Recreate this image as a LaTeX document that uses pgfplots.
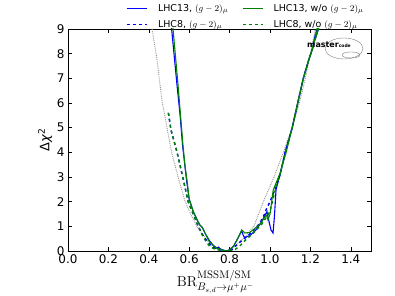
\documentclass[border=0pt]{standalone}
\usepackage[no-math]{fontspec}
\setmainfont{DejaVu Sans}
\usepackage{pgfplots}
\pgfplotsset{compat=1.18}
\definecolor{mplblue}{RGB}{0,0,255}
\definecolor{mplgreen}{RGB}{0,128,0}
\definecolor{dotgray}{RGB}{150,150,150}
\begin{document}
\begin{tikzpicture}
\begin{axis}[
  at={(0,0)}, anchor=south west,
  scale only axis, width=303bp, height=222bp,
  xmin=0, xmax=1.5, ymin=0, ymax=9,
  xtick={0,0.2,0.4,0.6,0.8,1.0,1.2,1.4},
  ytick={0,1,2,3,4,5,6,7,8,9},
  minor tick num=0,
  tick align=inside, major tick length=4bp,
  tick style={black, line width=0.5pt},
  axis line style={black, line width=0.7pt},
  /pgf/number format/assume math mode=true,
  ticklabel style={font=\fontsize{12}{14}\selectfont},
  x tick label style={/pgf/number format/.cd, fixed, fixed zerofill, precision=1},
  y tick label style={/pgf/number format/.cd, fixed, precision=0},
  xlabel={$\mathrm{BR}^{\mathrm{MSSM/SM}}_{B_{s,d}\to\mu^+\mu^-}$},
  xlabel style={font=\fontsize{15}{17}\selectfont, yshift=0bp, xshift=-4bp},
  ylabel={Δ\textit{χ}\textsuperscript{2}},
  ylabel style={font=\fontsize{13}{15}\selectfont, yshift=-2bp},
  legend columns=2,
  legend cell align=left,
  legend style={at={(rel axis cs:0.183,0.983)}, anchor=south west, draw=none, fill=none,
    font=\fontsize{9.5}{10}\selectfont, row sep=3bp,
    /tikz/every even column/.append style={column sep=12bp}},
  legend image code/.code={\draw[#1] (0bp,0bp) -- (20bp,0bp);},
  clip=true,
]
% dotted gray reference
\addplot[dotgray, densely dotted, line width=0.9pt, forget plot] coordinates {
(0.416,9.0) (0.44,7.8) (0.465,6.1) (0.49,5.0) (0.513,4.0) (0.545,3.0) (0.58,2.0)
(0.61,1.45) (0.638,1.0) (0.687,0.45) (0.72,0.17) (0.75,0.04) (0.78,0.0) (0.80,0.03)
(0.84,0.3) (0.88,0.62) (0.92,1.0) (0.967,2.0) (1.02,3.0) (1.066,4.0) (1.11,5.0)
(1.145,6.0) (1.175,7.0) (1.2,8.0) (1.225,9.0)
};
% LHC13 with g-2 (blue solid)
\addplot[mplblue, line width=1.1pt, forget plot] coordinates {
(0.510,9.2) (0.513,9.0) (0.54,6.7) (0.555,5.5) (0.567,4.3) (0.578,3.5) (0.588,2.8)
(0.60,2.1) (0.62,1.6) (0.64,1.25) (0.653,1.05) (0.665,0.95) (0.68,0.7) (0.70,0.42)
(0.72,0.22) (0.736,0.12) (0.745,0.16) (0.755,0.08) (0.77,0.03) (0.785,0.0) (0.80,0.05)
(0.82,0.2) (0.84,0.5) (0.86,0.82) (0.868,0.62) (0.875,0.55) (0.90,0.62) (0.93,0.85)
(0.96,1.2) (0.975,1.45) (0.985,1.6) (0.995,1.2) (1.005,0.85) (1.015,0.73) (1.022,1.4)
(1.03,2.5) (1.05,3.1) (1.075,4.0) (1.11,5.0) (1.14,6.1) (1.165,7.0) (1.19,7.7)
(1.21,8.2) (1.225,8.8) (1.22,8.5) (1.24,9.0) (1.245,9.3)
};
% LHC8 with g-2 (blue dashed)
\addplot[mplblue, dashed, line width=1.4pt, forget plot] coordinates {
(0.497,5.6) (0.51,4.9) (0.54,4.0) (0.568,3.0) (0.595,2.0) (0.62,1.5) (0.645,1.0)
(0.67,0.6) (0.70,0.3) (0.72,0.15) (0.75,0.05) (0.78,0.0) (0.81,0.04) (0.835,0.24)
(0.86,0.42) (0.885,0.58) (0.92,0.85) (0.95,1.13) (0.975,1.53) (0.98,1.66) (1.0,2.0)
(1.03,2.6) (1.05,3.1) (1.075,4.0) (1.11,5.0) (1.14,6.1) (1.165,7.0) (1.19,7.7)
(1.21,8.2) (1.23,8.9) (1.24,9.3)
};
% LHC13 w/o g-2 (green solid)
\addplot[mplgreen, line width=1.1pt, forget plot] coordinates {
(0.518,9.2) (0.52,9.0) (0.545,6.7) (0.557,5.5) (0.569,4.3) (0.58,3.4) (0.59,2.8)
(0.60,2.1) (0.62,1.6) (0.64,1.25) (0.653,1.05) (0.665,0.95) (0.68,0.7) (0.70,0.38)
(0.72,0.22) (0.736,0.12) (0.76,0.05) (0.785,0.0) (0.80,0.05) (0.82,0.2) (0.84,0.5)
(0.86,0.85) (0.876,0.73) (0.90,0.75) (0.92,0.88) (0.95,1.08) (0.975,1.39) (0.983,1.45)
(0.99,1.26) (1.0,1.5) (1.016,2.47) (1.05,3.16) (1.08,4.0) (1.11,5.0) (1.14,6.1)
(1.165,7.0) (1.19,7.7) (1.215,8.3) (1.23,8.9) (1.225,8.6) (1.24,9.0) (1.242,9.3)
};
% LHC8 w/o g-2 (green dashed)
\addplot[mplgreen, dashed, line width=1.4pt, forget plot] coordinates {
(0.497,5.6) (0.51,4.9) (0.54,4.0) (0.568,3.0) (0.595,2.0) (0.62,1.5) (0.645,1.0)
(0.67,0.55) (0.70,0.2) (0.72,0.1) (0.74,0.05) (0.78,0.0) (0.82,0.02) (0.85,0.2)
(0.88,0.45) (0.92,0.75) (0.96,1.1) (0.98,1.35) (1.0,1.6) (1.03,2.6) (1.05,3.1)
(1.075,4.0) (1.11,5.0) (1.14,6.1) (1.165,7.0) (1.19,7.7) (1.21,8.2) (1.23,8.9) (1.24,9.3)
};
\addlegendimage{draw=mplblue, line width=0.8pt}
\addlegendentry{\hspace{8bp}LHC13, $(g-2)_\mu$}
\addlegendimage{draw=mplgreen, line width=0.8pt}
\addlegendentry{\hspace{8bp}LHC13, w/o $(g-2)_\mu$}
\addlegendimage{draw=mplblue, dashed, line width=1.4pt}
\addlegendentry{\hspace{8bp}LHC8, $(g-2)_\mu$}
\addlegendimage{draw=mplgreen, dashed, line width=1.4pt}
\addlegendentry{\hspace{8bp}LHC8, w/o $(g-2)_\mu$}
\node[anchor=base west, font=\fontsize{9.5}{10}\selectfont, inner sep=0pt] at ([yshift=7bp]rel axis cs:0,1) {sub-GUT};
\draw[gray, line width=0.4pt] ([xshift=276bp,yshift=202.5bp]rel axis cs:0,0) ellipse [x radius=19bp, y radius=10.5bp];
\draw[gray, line width=0.4pt] ([xshift=283bp,yshift=196bp]rel axis cs:0,0) ellipse [x radius=9bp, y radius=3bp];
\node[anchor=base west, inner sep=0pt, font=\fontsize{8}{8}\selectfont\bfseries] at ([xshift=239bp,yshift=203bp]rel axis cs:0,0) {master{\fontsize{4.5}{4.5}\selectfont code}};
\end{axis}
\pgfresetboundingbox
\path (-68bp,-45bp) rectangle (327bp,251bp);
\end{tikzpicture}
\end{document}
